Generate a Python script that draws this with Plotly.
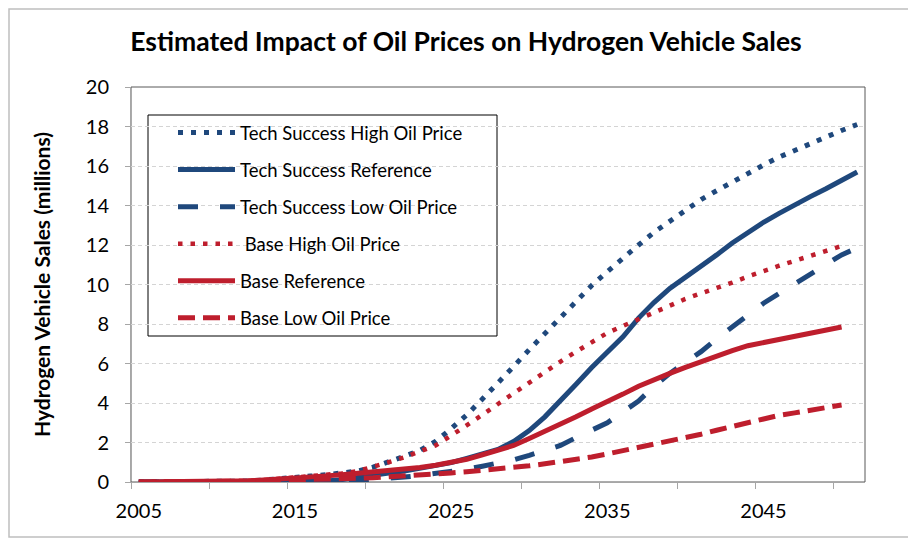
import plotly.graph_objects as go

years_tech = list(range(2005, 2052))
years_base = list(range(2005, 2051))

tech_high = [0, 0, 0, 0, 0, 0, 0.02, 0.05, 0.1, 0.15, 0.22, 0.3, 0.37, 0.43, 0.55, 0.75,
             1.0, 1.3, 1.6, 2.05, 2.7, 3.4, 4.2, 5.0, 5.85, 6.7, 7.5, 8.3, 9.15, 9.95, 10.65,
             11.35, 12.0, 12.65, 13.2, 13.75, 14.3, 14.75, 15.2, 15.6, 16.05, 16.45, 16.8,
             17.13, 17.45, 17.8, 18.1]
tech_ref = [0, 0, 0, 0, 0, 0, 0, 0, 0, 0, 0, 0.02, 0.05, 0.12, 0.25, 0.35,
            0.45, 0.55, 0.68, 0.82, 0.98, 1.2, 1.4, 1.65, 2.05, 2.6, 3.3, 4.1, 4.95, 5.8, 6.6,
            7.35, 8.3, 9.1, 9.8, 10.35, 10.9, 11.5, 12.1, 12.65, 13.15, 13.6, 14.05,
            14.45, 14.85, 15.3, 15.7]
tech_low = [0, 0, 0, 0, 0, 0, 0, 0, 0, 0, 0, 0, 0.02, 0.05, 0.08, 0.12,
            0.18, 0.25, 0.33, 0.42, 0.52, 0.65, 0.8, 0.95, 1.12, 1.35, 1.6, 1.85, 2.25, 2.6, 3.0,
            3.55, 4.1, 4.85, 5.5, 6.05, 6.6, 7.25, 7.85, 8.45, 9.05, 9.55, 10.05,
            10.55, 11.0, 11.5, 11.85]
base_high = [0, 0, 0, 0, 0, 0, 0.02, 0.05, 0.1, 0.15, 0.22, 0.3, 0.37, 0.43, 0.55, 0.75,
             1.0, 1.25, 1.55, 1.85, 2.35, 2.85, 3.4, 3.95, 4.5, 5.0, 5.55, 6.1, 6.6, 7.1, 7.55,
             7.9, 8.25, 8.6, 8.95, 9.27, 9.55, 9.8, 10.1, 10.4, 10.7, 10.95, 11.2,
             11.45, 11.7, 11.95]
base_ref = [0, 0, 0, 0, 0, 0, 0.03, 0.06, 0.1, 0.14, 0.2, 0.25, 0.31, 0.37, 0.43, 0.5,
            0.57, 0.64, 0.73, 0.85, 1.0, 1.15, 1.38, 1.6, 1.85, 2.2, 2.55, 2.9, 3.3, 3.7, 4.05,
            4.45, 4.85, 5.2, 5.5, 5.8, 6.1, 6.35, 6.65, 6.9, 7.05, 7.22, 7.37,
            7.52, 7.68, 7.85]
base_low = [0, 0, 0, 0, 0, 0, 0.02, 0.04, 0.07, 0.1, 0.12, 0.14, 0.15, 0.17, 0.19, 0.21,
            0.25, 0.3, 0.35, 0.41, 0.46, 0.52, 0.58, 0.65, 0.73, 0.82, 0.92, 1.02, 1.15, 1.27, 1.42,
            1.58, 1.75, 1.92, 2.1, 2.25, 2.42, 2.62, 2.82, 3.0, 3.2, 3.38, 3.5,
            3.62, 3.75, 3.9]

x_labels = [2005, 2015, 2025, 2035, 2045]
x_minor = [2004.5, 2009.5, 2014.5, 2019.5, 2024.5, 2029.5, 2034.5, 2039.5, 2044.5, 2049.5]

BLUE = "#1F487C"
RED = "#BE1E2D"
FONT = "Lato"

series = [
    ("Tech Success High Oil Price", years_tech, tech_high, BLUE, 5, "5px,8px"),
    ("Tech Success Reference", years_tech, tech_ref, BLUE, 5, "solid"),
    ("Tech Success Low Oil Price", years_tech, tech_low, BLUE, 5, "20px,22px"),
    (" Base High Oil Price", years_base, base_high, RED, 4.5, "4.5px,8px"),
    ("Base Reference", years_base, base_ref, RED, 5, "solid"),
    ("Base Low Oil Price", years_base, base_low, RED, 5, "17px,8px"),
]

fig = go.Figure()
for i, (name, xs, ys, col, w, dash) in enumerate(series):
    fig.add_trace(go.Scatter(x=xs, y=ys, mode="lines", name=name, legendgroup=str(i),
                             line=dict(color=col, width=w, dash=dash)))

# page body has an 8px margin: figure is drawn from window pixel (8, 8)
OFF = 8
W, H = 916 - OFF, 541 - OFF
PL, PT, PR, PB = 131, 87, 865, 482          # plot area in window pixels
L, T = PL - OFF, PT - OFF
R, B = W - (PR - OFF), H - (PB - OFF)
pw, ph = PR - PL, PB - PT

def px_x(p):
    return (p - PL) / pw

def px_y(p):
    return (PB - p) / ph

fig.update_layout(
    width=W, height=H,
    margin=dict(l=L, r=R, t=T, b=B, autoexpand=False),
    paper_bgcolor="white", plot_bgcolor="white",
    font=dict(family=FONT, color="black"),
    title=dict(text="<b>Estimated Impact of Oil Prices on Hydrogen Vehicle Sales</b>",
               font=dict(size=26.5, family=FONT, color="black"),
               x=px_x(466), xref="paper", xanchor="center",
               y=1 - (42 - OFF) / H, yref="container", yanchor="middle"),
    showlegend=True,
    legend=dict(x=px_x(173), y=px_y(114), xanchor="left", yanchor="top",
                bgcolor="rgba(0,0,0,0)", borderwidth=0,
                font=dict(size=18.5, family=FONT, color="black"),
                itemwidth=57, tracegroupgap=10, traceorder="grouped"),
    xaxis=dict(range=[2004.5, 2051.5], tickmode="array", tickvals=x_labels,
               ticks="", showgrid=False, zeroline=False, automargin=False,
               showline=True, linecolor="#a6a6a6", linewidth=1,
               ticklabelstandoff=11,
               tickfont=dict(size=20, family=FONT, color="black"),
               minor=dict(tickmode="array", tickvals=x_minor, ticks="outside",
                          ticklen=6, tickcolor="#a6a6a6", showgrid=False)),
    yaxis=dict(range=[0, 20], tickmode="linear", tick0=0, dtick=2,
               ticks="outside", ticklen=5, tickcolor="#a6a6a6", automargin=False,
               showgrid=True, gridcolor="#d4d4d4", griddash="4px,3px", gridwidth=1,
               zeroline=False, showline=True, linecolor="#a6a6a6", linewidth=1,
               ticklabelstandoff=12,
               tickfont=dict(size=20, family=FONT, color="black"),
               title=dict(text="<b>Hydrogen Vehicle Sales (millions)</b>",
                          font=dict(size=21, family=FONT, color="black"), standoff=29)),
)

# chart outer border
fig.add_shape(type="rect", xref="paper", yref="paper",
              x0=px_x(OFF + 1), x1=px_x(912), y0=px_y(537), y1=px_y(OFF + 1),
              line=dict(color="#bfbfbf", width=1.5), layer="below")
# plot-area border
fig.add_shape(type="rect", xref="paper", yref="paper", x0=0, x1=1, y0=0, y1=1,
              line=dict(color="#595959", width=1), layer="below")
# legend box
fig.add_shape(type="rect", xref="paper", yref="paper",
              x0=px_x(148), x1=px_x(497), y0=px_y(336), y1=px_y(115),
              line=dict(color="black", width=1), fillcolor="white", layer="between")

fig.write_html("out.html")
